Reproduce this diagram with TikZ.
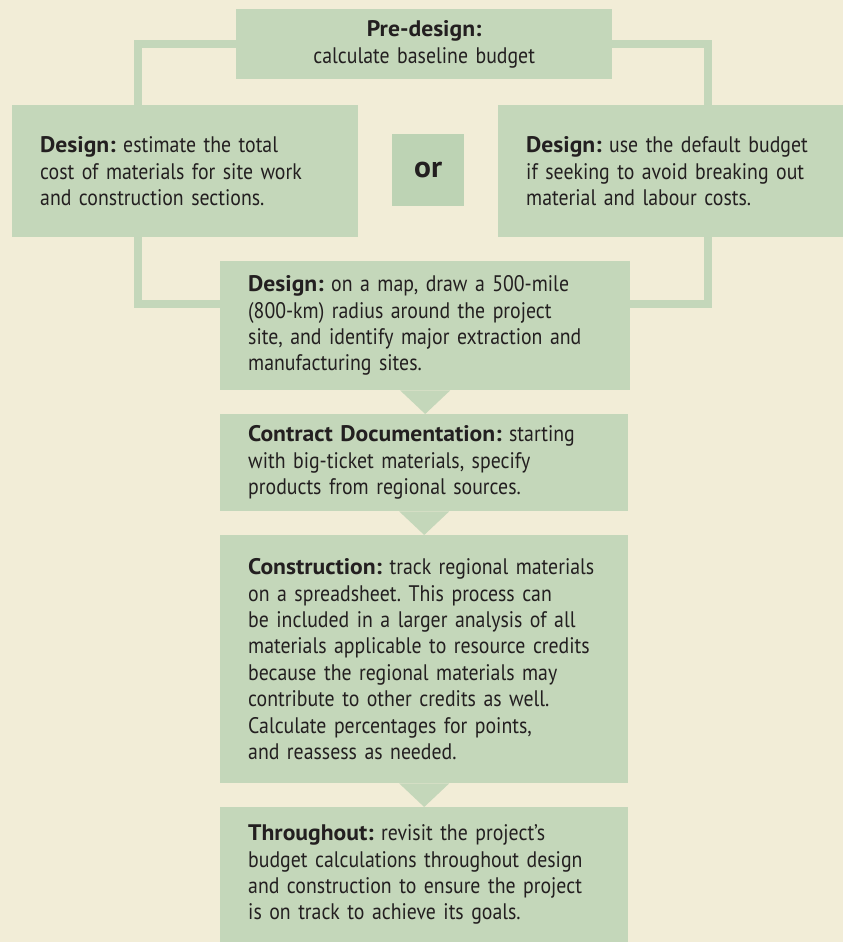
\documentclass[tikz,border=0pt]{standalone}
\usepackage{fontspec}
\setmainfont{PT Sans}[FakeStretch=0.88, BoldFeatures={FakeStretch=1.05}]
\usetikzlibrary{positioning,calc}

\definecolor{paper}{RGB}{242,237,215}
\definecolor{sage}{RGB}{196,215,186}
\definecolor{sagedark}{RGB}{189,211,180}
\definecolor{ink}{RGB}{35,31,32}

\tikzset{
  stage/.style={fill=sage, text=ink, anchor=north west, align=left,
    inner xsep=28pt, inner ysep=0pt,
    font=\fontsize{22.5}{26.4}\selectfont},
  link/.style={draw=sage, line width=8pt},
  notch/.style={fill=sage},
}

\begin{document}
\frenchspacing
\begin{tikzpicture}[x=1pt, y=-1pt]

    % papier
    \fill[paper] (0,0) rectangle (843,942);
    \useasboundingbox (0,0) rectangle (843,942);

    % kop
    \node[stage, align=center, text width=320pt, minimum height=70pt, font=\fontsize{22.5}{27}\selectfont]
        (pre) at (236,9) {\textbf{Pre-design:}\\calculate baseline budget};

    % twee varianten
    \node[stage, text width=290pt, minimum height=132pt] (dl) at (12,105)
        {\textbf{Design:} estimate the total\\cost of materials for site work\\and construction sections.};
    \node[stage, text width=289pt, minimum height=132pt] (dr) at (498,105)
        {\textbf{Design:} use the default budget\\if seeking to avoid breaking out\\material and labour costs.};
    \node[fill=sagedark, text=ink, anchor=north west, minimum width=72pt, minimum height=72pt,
        inner sep=0pt, font=\fontsize{30}{30}\selectfont\bfseries] (or) at (392,134) {or};

    % kolom
    \node[stage, text width=354pt, minimum height=129pt] (map) at (220,261)
        {\textbf{Design:} on a map, draw a 500-mile\\(800-km) radius around the project\\site, and identify major extraction and\\manufacturing sites.};
    \node[stage, text width=352pt, minimum height=97pt] (doc) at (220,414)
        {\textbf{Contract Documentation:} starting\\with big-ticket materials, specify\\products from regional sources.};
    \node[stage, text width=352pt, minimum height=248pt] (build) at (220,535)
        {\textbf{Construction:} track regional materials\\on a spreadsheet. This process can\\be included in a larger analysis of all\\materials applicable to resource credits\\because the regional materials may\\contribute to other credits as well.\\Calculate percentages for points,\\and reassess as needed.};
    \node[stage, text width=352pt, minimum height=135pt] (review) at (220,807)
        {\textbf{Throughout:} revisit the project’s\\budget calculations throughout design\\and construction to ensure the project\\is on track to achieve its goals.};

    % verbindingen
    \draw[link] (pre.west) -| ([xshift=126pt]dl.north west);
    \draw[link] (pre.east) -| ([xshift=210pt]dr.north west);
    \draw[link] ([xshift=126pt]dl.south west) |- ([yshift=22pt]map.west);
    \draw[link] ([xshift=210pt]dr.south west) |- ([yshift=22pt]map.east);

    % pijlpunten
    \fill[notch] ([xshift=-25pt]map.south) -- ([xshift=25pt]map.south) -- (map.south |- doc.north) -- cycle;
    \fill[notch] ([xshift=-25pt]doc.south) -- ([xshift=25pt]doc.south) -- (doc.south |- build.north) -- cycle;
    \fill[notch] ([xshift=-25pt]build.south) -- ([xshift=25pt]build.south) -- (build.south |- review.north) -- cycle;

\end{tikzpicture}
\end{document}
